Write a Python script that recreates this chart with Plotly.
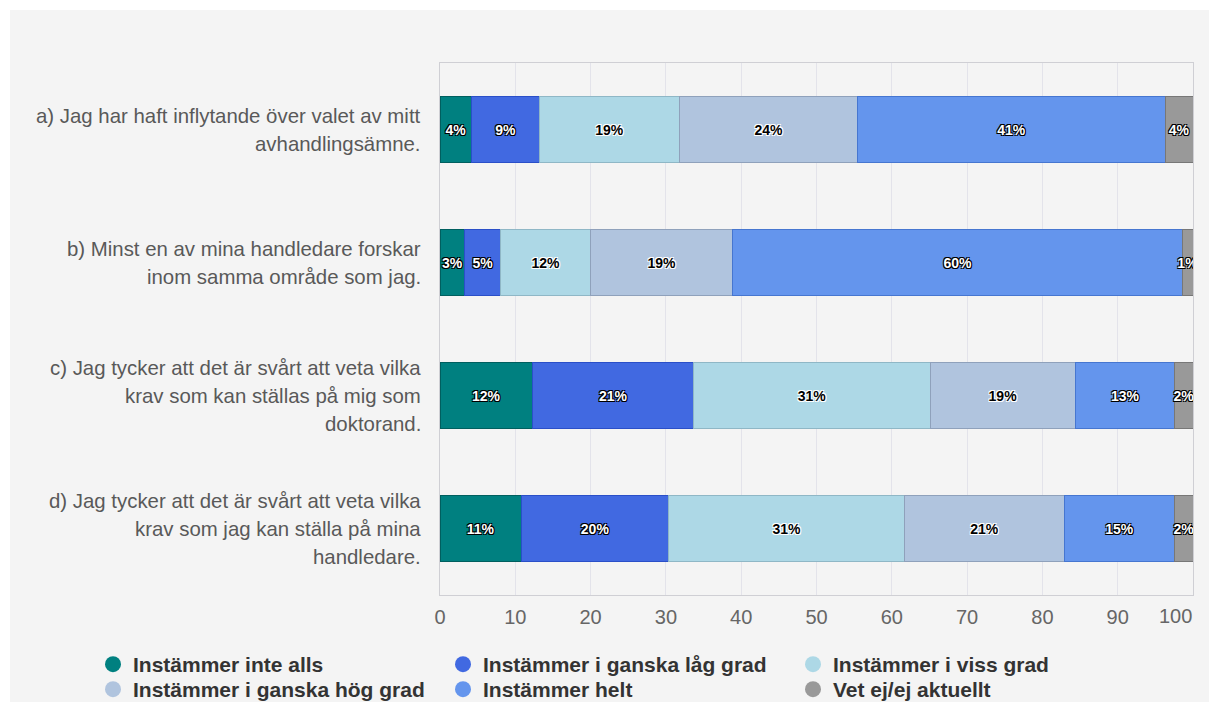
import plotly.graph_objects as go

categories = [
    "a) Jag har haft inflytande över valet av mitt<br>avhandlingsämne.",
    "b) Minst en av mina handledare forskar<br>inom samma område som jag.",
    "c) Jag tycker att det är svårt att veta vilka<br>krav som kan ställas på mig som<br>doktorand.",
    "d) Jag tycker att det är svårt att veta vilka<br>krav som jag kan ställa på mina<br>handledare.",
]
series_names = [
    "Instämmer inte alls",
    "Instämmer i ganska låg grad",
    "Instämmer i viss grad",
    "Instämmer i ganska hög grad",
    "Instämmer helt",
    "Vet ej/ej aktuellt",
]
# values per series, in category order a, b, c, d (percent)
inte_alls = [4.2, 3.3, 12.3, 10.8]
ganska_lag = [9.0, 4.8, 21.4, 19.6]
viss_grad = [18.6, 11.9, 31.4, 31.3]
ganska_hog = [23.7, 18.9, 19.3, 21.2]
helt = [40.8, 59.7, 13.2, 14.7]
vet_ej = [3.7, 1.4, 2.4, 2.4]
series_values = [inte_alls, ganska_lag, viss_grad, ganska_hog, helt, vet_ej]
x_ticks = [0, 10, 20, 30, 40, 50, 60, 70, 80, 90, 100]

colors = ["#008080", "#4169E1", "#ADD8E6", "#B0C4DE", "#6495ED", "#999999"]
outlines = ["#005f5f", "#2a4fc8", "#8fb7c6", "#8fa1bb", "#4676d0", "#777777"]
dark_text = [False, False, True, True, False, False]

black_halo = "-1px -1px 0 #000, 1px -1px 0 #000, -1px 1px 0 #000, 1px 1px 0 #000"
white_halo = "-1px -1px 0 #fff, 1px -1px 0 #fff, -1px 1px 0 #fff, 1px 1px 0 #fff"
FONT = "Arial, Liberation Sans, sans-serif"

L, R, T, B = 440, 16, 63, 107
W, H = 1209, 702
pw, ph = W - L - R, H - T - B

fig = go.Figure()
for name, vals, c, oc, dk in zip(series_names, series_values, colors, outlines, dark_text):
    fig.add_trace(go.Bar(
        y=categories, x=vals, orientation="h", name=name,
        marker=dict(color=c, line=dict(color=oc, width=1)),
        text=[f"{v:.0f}%" for v in vals],
        textposition="inside", insidetextanchor="middle", textangle=0,
        textfont=dict(family=FONT, size=14,
                      color="#000000" if dk else "#ffffff",
                      weight="bold",
                      shadow=white_halo if dk else black_halo),
        showlegend=False, hoverinfo="skip",
    ))

# legend: 3 columns x 2 rows, one single-entry legend per series
legend_layouts = {}
for i, (name, c) in enumerate(zip(series_names, colors)):
    lid = "legend" if i == 0 else f"legend{i + 1}"
    col, row = i % 3, i // 3
    fig.add_trace(go.Scatter(
        x=[None], y=[None], mode="markers", name=name, legend=lid,
        marker=dict(symbol="circle", size=20, color=c), showlegend=True,
    ))
    legend_layouts[lid] = dict(
        orientation="h", xref="container", yref="container",
        x=(93 + 350 * col) / W, y=1 - (644 + 25 * row) / H,
        xanchor="left", yanchor="top", itemwidth=30,
        bgcolor="rgba(0,0,0,0)",
        font=dict(family=FONT, size=21, color="#333333", weight="bold"),
    )

# category labels as right-aligned annotations with wider line spacing
line_gap = 28
for cat in categories:
    lines = cat.split("<br>")
    n = len(lines)
    for i, ln in enumerate(lines):
        fig.add_annotation(
            xref="paper", yref="y", x=-0.0226, y=cat, xanchor="right", yanchor="middle",
            text=ln, showarrow=False, yshift=((n - 1) / 2 - i) * line_gap,
            font=dict(family=FONT, size=20.4, color="#595959"),
        )

# last x tick label kept inside the plot edge, like the reference
tick_font = dict(family=FONT, size=20, color="#666666")
fig.add_annotation(xref="x", yref="paper", x=x_ticks[-1], y=0, xanchor="right", yanchor="top",
                   yshift=-8, xshift=1, text=str(x_ticks[-1]), showarrow=False, font=tick_font)

# background panel (white strip at top and left)
fig.add_shape(type="rect", xref="paper", yref="paper",
              x0=(10 - L) / pw, x1=(W - L) / pw,
              y0=-B / ph, y1=(ph + T - 10) / ph,
              fillcolor="#f4f4f4", line=dict(width=0), layer="below")

fig.update_layout(
    width=W, height=H,
    margin=dict(l=L, r=R, t=T, b=B),
    barmode="stack", bargap=0.51,
    paper_bgcolor="#ffffff", plot_bgcolor="#f4f4f4",
    font=dict(family=FONT),
    xaxis=dict(range=[0, 100], tickvals=x_ticks,
               ticktext=[str(v) for v in x_ticks[:-1]] + [""],
               showgrid=True, gridcolor="#e3e3ea",
               gridwidth=1, zeroline=False, showline=True, linecolor="#cfcfd4", mirror=True,
               ticks="", ticklabelstandoff=4, tickfont=tick_font, fixedrange=True),
    yaxis=dict(type="category", categoryorder="array", categoryarray=categories,
               range=[3.5, -0.5], showticklabels=False, showgrid=False, zeroline=False,
               showline=True, linecolor="#cfcfd4", mirror=True, ticks=""),
    uniformtext=dict(minsize=14, mode="show"),
    **legend_layouts,
)

fig.write_html("out.html", config={"displayModeBar": False},
               post_script="document.body.style.margin='0';document.body.style.overflow='hidden';")
